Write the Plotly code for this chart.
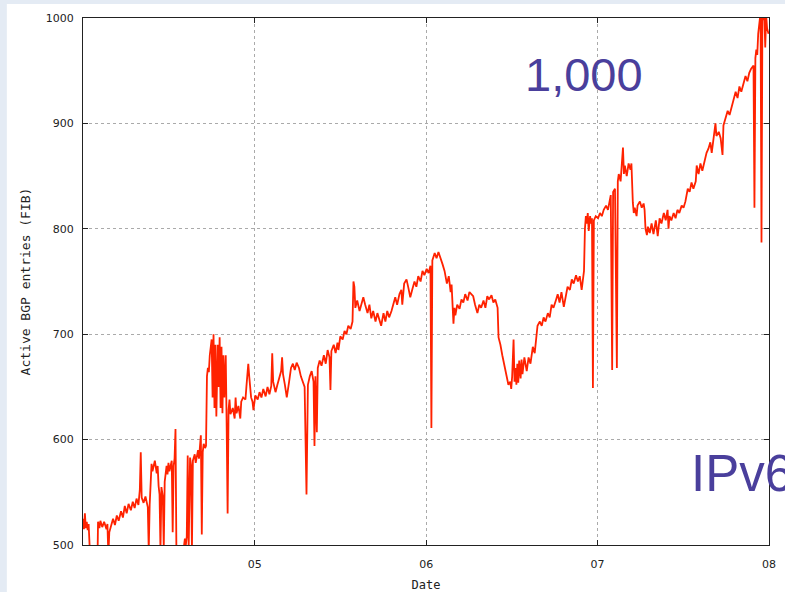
import plotly.graph_objects as go

# Active IPv6 BGP FIB entries, 2004-2008 (date, entries)
bgp_2004 = [
    ("2004-01-01", 525), ("2004-01-03", 515), ("2004-01-05", 530), ("2004-01-07", 516),
    ("2004-01-09", 522), ("2004-01-11", 514), ("2004-01-13", 520), ("2004-01-16", 490),
    ("2004-01-25", 488), ("2004-02-01", 490), ("2004-02-02", 522), ("2004-02-05", 516),
    ("2004-02-07", 523), ("2004-02-11", 517), ("2004-02-15", 522), ("2004-02-20", 515),
    ("2004-02-22", 520), ("2004-02-24", 490), ("2004-02-26", 512), ("2004-03-01", 518),
    ("2004-03-05", 525), ("2004-03-09", 519), ("2004-03-13", 528), ("2004-03-17", 523),
    ("2004-03-22", 532), ("2004-03-26", 526), ("2004-03-30", 537), ("2004-04-03", 530),
    ("2004-04-07", 539), ("2004-04-12", 533), ("2004-04-16", 541), ("2004-04-20", 535),
    ("2004-04-24", 544), ("2004-04-28", 538), ("2004-05-01", 552), ("2004-05-03", 588),
    ("2004-05-05", 545), ("2004-05-09", 540), ("2004-05-13", 546), ("2004-05-18", 536),
    ("2004-05-20", 495), ("2004-05-22", 538), ("2004-05-24", 565), ("2004-05-26", 577),
    ("2004-05-28", 570), ("2004-06-02", 580), ("2004-06-06", 568), ("2004-06-08", 575),
    ("2004-06-10", 556), ("2004-06-12", 548), ("2004-06-14", 495), ("2004-06-16", 555),
    ("2004-06-19", 546), ("2004-06-21", 497), ("2004-06-23", 560), ("2004-06-25", 570),
    ("2004-06-27", 575), ("2004-06-29", 567), ("2004-07-01", 578), ("2004-07-03", 570),
    ("2004-07-08", 580), ("2004-07-10", 512), ("2004-07-12", 575), ("2004-07-14", 582),
    ("2004-07-16", 610), ("2004-07-18", 490), ("2004-07-31", 488), ("2004-08-05", 506),
    ("2004-08-07", 500), ("2004-08-09", 508), ("2004-08-11", 585), ("2004-08-13", 495),
    ("2004-08-16", 583), ("2004-08-18", 576), ("2004-08-20", 495), ("2004-08-22", 580),
    ("2004-08-26", 586), ("2004-08-28", 578), ("2004-09-02", 590), ("2004-09-04", 582),
    ("2004-09-08", 604), ("2004-09-10", 510), ("2004-09-12", 588), ("2004-09-14", 596),
    ("2004-09-17", 592), ("2004-09-19", 594), ("2004-09-21", 660), ("2004-09-23", 668),
    ("2004-09-25", 664), ("2004-09-27", 680), ("2004-10-01", 695), ("2004-10-03", 640),
    ("2004-10-05", 700), ("2004-10-07", 630), ("2004-10-09", 690), ("2004-10-11", 622),
    ("2004-10-14", 690), ("2004-10-16", 650), ("2004-10-18", 697), ("2004-10-20", 630),
    ("2004-10-22", 688), ("2004-10-24", 625), ("2004-10-26", 680), ("2004-10-28", 640),
    ("2004-10-31", 680), ("2004-11-02", 612), ("2004-11-04", 530), ("2004-11-06", 628),
    ("2004-11-08", 638), ("2004-11-10", 624), ("2004-11-15", 630), ("2004-11-19", 620),
    ("2004-11-21", 640), ("2004-11-23", 625), ("2004-11-27", 632), ("2004-12-01", 620),
    ("2004-12-03", 636), ("2004-12-07", 640), ("2004-12-12", 638), ("2004-12-14", 650),
    ("2004-12-16", 668), ("2004-12-18", 672), ("2004-12-20", 660), ("2004-12-22", 648),
    ("2004-12-24", 640), ("2004-12-27", 636), ("2004-12-29", 628),
]

bgp_2005 = [
    ("2005-01-02", 642), ("2005-01-07", 638), ("2005-01-11", 645), ("2005-01-15", 640),
    ("2005-01-19", 648), ("2005-01-24", 641), ("2005-01-28", 650), ("2005-02-01", 643),
    ("2005-02-05", 651), ("2005-02-07", 682), ("2005-02-09", 655), ("2005-02-14", 645),
    ("2005-02-18", 652), ("2005-02-22", 660), ("2005-02-26", 665), ("2005-02-28", 678),
    ("2005-03-02", 662), ("2005-03-06", 652), ("2005-03-10", 640), ("2005-03-15", 655),
    ("2005-03-19", 668), ("2005-03-23", 672), ("2005-03-27", 666), ("2005-03-31", 673),
    ("2005-04-05", 668), ("2005-04-09", 660), ("2005-04-13", 655), ("2005-04-17", 650),
    ("2005-04-21", 548), ("2005-04-24", 652), ("2005-04-28", 660), ("2005-05-02", 665),
    ("2005-05-06", 655), ("2005-05-08", 594), ("2005-05-10", 660), ("2005-05-13", 607),
    ("2005-05-15", 668), ("2005-05-19", 675), ("2005-05-23", 670), ("2005-05-28", 680),
    ("2005-06-01", 672), ("2005-06-05", 685), ("2005-06-09", 678), ("2005-06-11", 647),
    ("2005-06-13", 684), ("2005-06-18", 690), ("2005-06-22", 682), ("2005-06-26", 692),
    ("2005-06-28", 685), ("2005-07-02", 698), ("2005-07-07", 695), ("2005-07-11", 703),
    ("2005-07-15", 700), ("2005-07-19", 708), ("2005-07-24", 705), ("2005-07-28", 712),
    ("2005-07-30", 750), ("2005-08-01", 745), ("2005-08-03", 725), ("2005-08-07", 732),
    ("2005-08-12", 722), ("2005-08-16", 728), ("2005-08-20", 735), ("2005-08-24", 728),
    ("2005-08-29", 720), ("2005-09-02", 728), ("2005-09-06", 715), ("2005-09-10", 722),
    ("2005-09-15", 712), ("2005-09-19", 720), ("2005-09-23", 715), ("2005-09-27", 708),
    ("2005-10-02", 720), ("2005-10-06", 712), ("2005-10-10", 722), ("2005-10-14", 716),
    ("2005-10-19", 722), ("2005-10-23", 730), ("2005-10-27", 735), ("2005-10-31", 728),
    ("2005-11-05", 738), ("2005-11-09", 742), ("2005-11-11", 728), ("2005-11-15", 748),
    ("2005-11-20", 752), ("2005-11-24", 744), ("2005-11-26", 740), ("2005-11-28", 735),
    ("2005-12-02", 742), ("2005-12-07", 750), ("2005-12-11", 745), ("2005-12-15", 755),
    ("2005-12-20", 750), ("2005-12-24", 760), ("2005-12-28", 756),
]

bgp_2006 = [
    ("2006-01-02", 762), ("2006-01-06", 758), ("2006-01-10", 765), ("2006-01-12", 611),
    ("2006-01-14", 770), ("2006-01-19", 777), ("2006-01-23", 772), ("2006-01-27", 778),
    ("2006-02-01", 770), ("2006-02-05", 766), ("2006-02-09", 760), ("2006-02-14", 748),
    ("2006-02-18", 755), ("2006-02-22", 740), ("2006-02-24", 747), ("2006-02-26", 725),
    ("2006-02-28", 710), ("2006-03-02", 725), ("2006-03-04", 718), ("2006-03-08", 728),
    ("2006-03-13", 724), ("2006-03-17", 733), ("2006-03-21", 730), ("2006-03-25", 738),
    ("2006-03-30", 732), ("2006-04-03", 740), ("2006-04-07", 738), ("2006-04-11", 736),
    ("2006-04-15", 728), ("2006-04-20", 720), ("2006-04-24", 728), ("2006-04-28", 725),
    ("2006-05-03", 732), ("2006-05-07", 725), ("2006-05-11", 736), ("2006-05-15", 733),
    ("2006-05-20", 737), ("2006-05-24", 730), ("2006-05-28", 733), ("2006-06-02", 725),
    ("2006-06-04", 697), ("2006-06-08", 690), ("2006-06-12", 680), ("2006-06-16", 672),
    ("2006-06-21", 660), ("2006-06-25", 652), ("2006-06-29", 655), ("2006-07-01", 648),
    ("2006-07-03", 660), ("2006-07-06", 695), ("2006-07-08", 655), ("2006-07-10", 668),
    ("2006-07-12", 652), ("2006-07-14", 672), ("2006-07-16", 654), ("2006-07-18", 675),
    ("2006-07-21", 658), ("2006-07-23", 676), ("2006-07-25", 662), ("2006-07-29", 678),
    ("2006-08-03", 665), ("2006-08-07", 678), ("2006-08-11", 672), ("2006-08-16", 688),
    ("2006-08-20", 682), ("2006-08-24", 700), ("2006-08-26", 708), ("2006-08-31", 712),
    ("2006-09-04", 708), ("2006-09-08", 716), ("2006-09-12", 712), ("2006-09-17", 720),
    ("2006-09-21", 716), ("2006-09-25", 728), ("2006-09-29", 725), ("2006-10-04", 732),
    ("2006-10-08", 738), ("2006-10-12", 730), ("2006-10-16", 740), ("2006-10-21", 726),
    ("2006-10-25", 736), ("2006-10-29", 745), ("2006-11-03", 742), ("2006-11-07", 752),
    ("2006-11-11", 748), ("2006-11-16", 756), ("2006-11-20", 750), ("2006-11-24", 755),
    ("2006-11-28", 742), ("2006-11-30", 748), ("2006-12-03", 760), ("2006-12-05", 800),
    ("2006-12-07", 812), ("2006-12-09", 805), ("2006-12-11", 815), ("2006-12-13", 798),
    ("2006-12-16", 812), ("2006-12-18", 805), ("2006-12-20", 810), ("2006-12-22", 649),
    ("2006-12-24", 808), ("2006-12-28", 812),
]

bgp_2007 = [
    ("2007-01-02", 810), ("2007-01-06", 815), ("2007-01-10", 812), ("2007-01-14", 818),
    ("2007-01-19", 822), ("2007-01-23", 818), ("2007-01-27", 828), ("2007-01-29", 832),
    ("2007-02-01", 666), ("2007-02-03", 835), ("2007-02-07", 838), ("2007-02-11", 668),
    ("2007-02-13", 845), ("2007-02-15", 852), ("2007-02-19", 845), ("2007-02-24", 877),
    ("2007-02-26", 852), ("2007-02-28", 860), ("2007-03-04", 850), ("2007-03-08", 862),
    ("2007-03-12", 856), ("2007-03-14", 862), ("2007-03-17", 825), ("2007-03-19", 815),
    ("2007-03-21", 820), ("2007-03-25", 812), ("2007-03-27", 822), ("2007-04-01", 826),
    ("2007-04-05", 820), ("2007-04-09", 824), ("2007-04-11", 818), ("2007-04-13", 800),
    ("2007-04-16", 794), ("2007-04-18", 802), ("2007-04-22", 796), ("2007-04-26", 805),
    ("2007-04-30", 795), ("2007-05-02", 800), ("2007-05-05", 808), ("2007-05-09", 793),
    ("2007-05-13", 810), ("2007-05-17", 805), ("2007-05-22", 815), ("2007-05-26", 808),
    ("2007-05-30", 818), ("2007-06-01", 800), ("2007-06-03", 812), ("2007-06-07", 808),
    ("2007-06-12", 815), ("2007-06-16", 810), ("2007-06-20", 818), ("2007-06-24", 815),
    ("2007-06-29", 822), ("2007-07-03", 820), ("2007-07-07", 826), ("2007-07-12", 838),
    ("2007-07-16", 835), ("2007-07-20", 844), ("2007-07-24", 838), ("2007-07-29", 845),
    ("2007-07-31", 860), ("2007-08-04", 852), ("2007-08-08", 862), ("2007-08-12", 855),
    ("2007-08-17", 866), ("2007-08-21", 872), ("2007-08-25", 876), ("2007-08-29", 882),
    ("2007-09-01", 872), ("2007-09-05", 888), ("2007-09-09", 900), ("2007-09-11", 888),
    ("2007-09-16", 892), ("2007-09-20", 886), ("2007-09-24", 870), ("2007-09-26", 898),
    ("2007-09-30", 905), ("2007-10-05", 912), ("2007-10-09", 908), ("2007-10-13", 915),
    ("2007-10-17", 920), ("2007-10-22", 930), ("2007-10-26", 924), ("2007-10-30", 935),
    ("2007-11-03", 930), ("2007-11-08", 940), ("2007-11-12", 945), ("2007-11-16", 940),
    ("2007-11-20", 948), ("2007-11-24", 952), ("2007-11-29", 955), ("2007-12-01", 820),
    ("2007-12-03", 962), ("2007-12-05", 970), ("2007-12-07", 965), ("2007-12-09", 985),
    ("2007-12-11", 995), ("2007-12-14", 1005), ("2007-12-16", 787), ("2007-12-18", 1008),
    ("2007-12-20", 998), ("2007-12-22", 1005), ("2007-12-24", 972), ("2007-12-26", 1002),
    ("2007-12-28", 990), ("2007-12-31", 985),
]

year_ticks = ["2005-01-01", "2006-01-01", "2007-01-01", "2008-01-01"]
year_labels = ["05", "06", "07", "08"]
entry_ticks = [500, 600, 700, 800, 900, 1000]

series = bgp_2004 + bgp_2005 + bgp_2006 + bgp_2007
dates = [d for d, _ in series]
entries = [v for _, v in series]

fig = go.Figure()
fig.add_trace(go.Scatter(
    x=dates, y=entries, mode="lines",
    line=dict(color="#ff2200", width=1.8),
    showlegend=False, hoverinfo="skip",
))

axis_common = dict(
    showline=True, linecolor="#222222", linewidth=1, mirror="ticks",
    ticks="inside", ticklen=5, tickcolor="#222222",
    showgrid=True, gridcolor="#aaaaaa", griddash="dot", gridwidth=1,
    zeroline=False, automargin=False,
    tickfont=dict(family="DejaVu Sans", size=11, color="#222222"),
)

fig.update_xaxes(
    type="date", range=["2004-01-01", "2008-01-01"],
    tickvals=year_ticks, ticktext=year_labels,
    ticklabelstandoff=9,
    title=dict(text="Date", font=dict(family="DejaVu Sans Mono", size=12, color="#222222"), standoff=11),
    **axis_common,
)
fig.update_yaxes(
    range=[500, 1000], tickvals=entry_ticks,
    ticklabelstandoff=6,
    title=dict(text="Active BGP entries (FIB)", font=dict(family="DejaVu Sans Mono", size=13, color="#222222"), standoff=12),
    **axis_common,
)

# white page panel over the slide background
fig.add_shape(type="rect", xref="paper", yref="paper",
              x0=-0.111, x1=1.1, y0=-0.1, y1=1.0266,
              fillcolor="white", line=dict(width=0), layer="below")

fig.add_annotation(text="1,000", xref="paper", yref="paper", x=0.731, y=0.892,
                   showarrow=False, xanchor="center", yanchor="middle",
                   font=dict(family="Liberation Sans", size=47, color="#4a3f9c"))
fig.add_annotation(text="IPv6", xref="paper", yref="paper", x=0.884, y=0.136,
                   showarrow=False, xanchor="left", yanchor="middle",
                   font=dict(family="Liberation Sans", size=51, color="#4a3f9c"))

fig.update_layout(
    width=785, height=592,
    margin=dict(l=83, r=16, t=18, b=47),
    paper_bgcolor="#e4ebf4", plot_bgcolor="white",
)

fig.write_html("out.html")
